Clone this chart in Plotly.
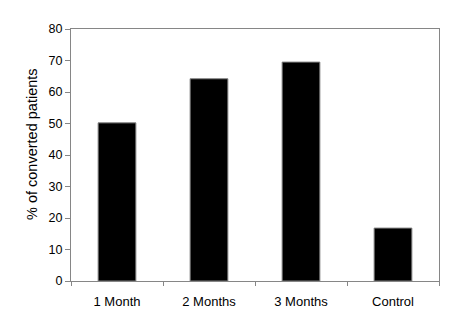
import plotly.graph_objects as go

categories = ["1 Month", "2 Months", "3 Months", "Control"]
values = [50.2, 64.2, 69.5, 16.8]
y_ticks = [0, 10, 20, 30, 40, 50, 60, 70, 80]
y_title = "% of converted patients"

fig = go.Figure(go.Bar(
    x=categories, y=values,
    marker=dict(color="black", line=dict(color="#808080", width=1)),
    width=0.41,
))

# the page body has an 8px default margin, so offsets are compensated
fig.update_layout(
    width=456, height=332,
    margin=dict(l=63, r=25, t=21, b=59),
    paper_bgcolor="white", plot_bgcolor="white",
    showlegend=False,
    font=dict(family="Liberation Sans, Arial, sans-serif", color="black", size=12),
    annotations=[dict(
        text=y_title, textangle=-90, showarrow=False,
        xref="paper", yref="paper", x=(32 - 71) / 368, y=(281 - 144) / 252,
        xanchor="center", yanchor="middle",
        font=dict(size=14.5, color="black"),
    )],
)
fig.update_xaxes(
    showline=True, linecolor="#868686", linewidth=1, mirror=True,
    ticks="outside", ticklen=4, tickcolor="#868686", tickson="boundaries",
    showgrid=False, tickfont=dict(size=13), automargin=False,
    ticklabelstandoff=8,
)
fig.update_yaxes(
    range=[0, 80], tickvals=y_ticks,
    showline=True, linecolor="#868686", linewidth=1, mirror=True,
    ticks="outside", ticklen=5, tickcolor="#868686",
    showgrid=False, zeroline=False, tickfont=dict(size=12.5), automargin=False,
)

fig.write_html("out.html")
